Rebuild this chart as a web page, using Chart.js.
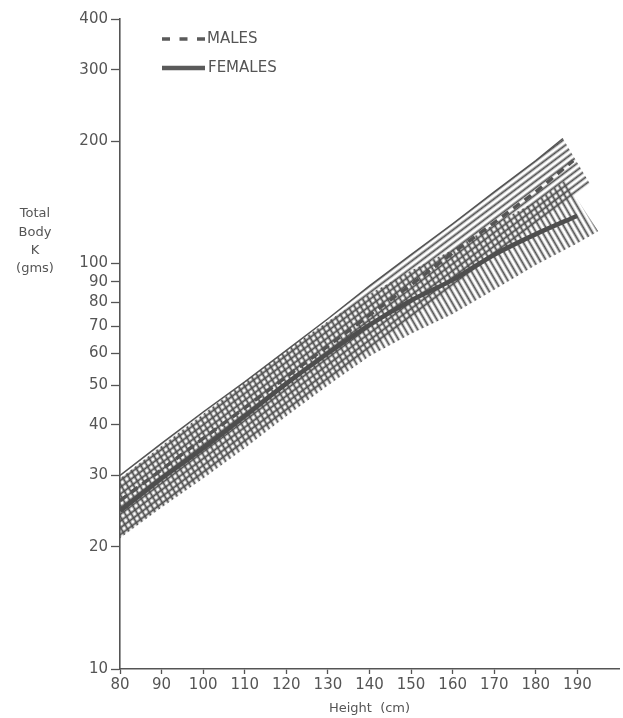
<!DOCTYPE html>
<html><head><meta charset="utf-8">
<script src="https://cdn.jsdelivr.net/npm/chart.js@4"></script>
<style>html,body{margin:0;padding:0;background:#fff}#wrap{width:623px;height:718px;position:relative}</style>
</head><body><div id="wrap"><canvas id="c"></canvas></div>
<script>
// ---- data ----
const heightTicks = [80,90,100,110,120,130,140,150,160,170,180,190];
const kTicks = [10,20,30,40,50,60,70,80,90,100,200,300,400];

const maleHeights = [80,90,100,110,120,130,140,150,160,170,180,189];
const maleK       = [26,31,37,44,52.5,62.5,74.5,88.5,106,126,150,179];
const femaleHeights = [80,90,100,110,120,130,140,150,160,170,180,190];
const femaleK       = [24.5,29.5,35,42,50.5,60,70.5,81,91,105,118,131];

const maleBandTopHeights    = [80,90,100,110,120,130,140,150,160,170,180,186.5];
const maleBandTopK          = [30,36,43,51,61,73,88,105,125,150,179,203];
const maleBandBottomHeights = [80,90,100,110,120,130,140,150,160,170,180,190,193];
const maleBandBottomK       = [21,25,30,36,43,51,61,73,87,104,125,149,157];

const femaleBandTopHeights    = [80,90,100,110,120,130,140,150,160,170,180,187];
const femaleBandTopK          = [29.5,35.5,42.5,51,61,72,84,96,108,125,142,160];
const femaleBandBottomHeights = [80,90,100,110,120,130,140,150,160,170,180,190,195];
const femaleBandBottomK       = [21,25,29.5,35,42,50,59,67,75,86,99,112,120];

const yTitleLines = ['Total','Body','K','(gms)'];
const legendLabels = ['MALES','FEMALES'];
const xTitle = 'Height  (cm)';

// ---- helpers ----
const pts = (xs, ys) => xs.map((x, i) => ({x, y: ys[i]}));
const polygon = (tx, ty, bx, by) => pts(tx, ty).concat(pts(bx, by).reverse());

function hatch(vertical, angle) {
  const s = 5;
  const c = document.createElement('canvas');
  c.width = s; c.height = s;
  const g = c.getContext('2d');
  g.fillStyle = '#4f4f4f';
  if (vertical) g.fillRect(1.5, 0, 1.8, s); else g.fillRect(0, 1.5, s, 1.8);
  const p = g.createPattern(c, 'repeat');
  p.setTransform(new DOMMatrix().rotateSelf(angle).scaleSelf(1.08));
  return p;
}

const GREY = '#555';
const FONT = 'DejaVu Sans';

const labelsPlugin = {
  id: 'labels',
  afterDraw(chart) {
    const ctx = chart.ctx;
    ctx.save();
    ctx.fillStyle = GREY;
    ctx.font = '13px "' + FONT + '"';
    ctx.textAlign = 'center';
    ctx.textBaseline = 'middle';
    const ys = [214, 233, 251, 269];
    yTitleLines.forEach((t, i) => ctx.fillText(t, 35, ys[i]));
    // legend
    ctx.strokeStyle = '#5a5a5a';
    ctx.lineWidth = 3.5;
    ctx.setLineDash([8, 9.5]);
    ctx.beginPath(); ctx.moveTo(162, 39); ctx.lineTo(206, 39); ctx.stroke();
    ctx.setLineDash([]);
    ctx.lineWidth = 4.5;
    ctx.beginPath(); ctx.moveTo(162, 68); ctx.lineTo(205, 68); ctx.stroke();
    ctx.font = '15px "' + FONT + '"';
    ctx.textAlign = 'left';
    ctx.fillText(legendLabels[0], 207, 39);
    ctx.fillText(legendLabels[1], 208, 68);
    ctx.restore();
  }
};

const tickFont = {family: FONT, size: 15};

new Chart(document.getElementById('c'), {
  type: 'line',
  data: {
    datasets: [
      { // females line
        data: pts(femaleHeights, femaleK), borderColor: '#4e4e4e', borderWidth: 4.5,
        pointRadius: 0, fill: false, order: 0, tension: 0.3
      },
      { // males line
        data: pts(maleHeights, maleK), borderColor: '#555', borderWidth: 3.5,
        borderDash: [8, 6], pointRadius: 0, fill: false, order: 1
      },
      { // male band top edge
        data: pts(maleBandTopHeights, maleBandTopK), borderColor: '#555', borderWidth: 1.5,
        pointRadius: 0, fill: false, order: 2
      },
      { // female band (hatched across)
        data: polygon(femaleBandTopHeights, femaleBandTopK, femaleBandBottomHeights, femaleBandBottomK),
        borderColor: 'rgba(0,0,0,0)', borderWidth: 1, pointRadius: 0,
        backgroundColor: hatch(true, -30), fill: 'shape', order: 3
      },
      { // male band (hatched along)
        data: polygon(maleBandTopHeights, maleBandTopK, maleBandBottomHeights, maleBandBottomK),
        borderColor: 'rgba(0,0,0,0)', borderWidth: 1, pointRadius: 0,
        backgroundColor: hatch(false, -37), fill: 'shape', order: 4
      }
    ]
  },
  options: {
    responsive: true, maintainAspectRatio: false, animation: false,
    events: [],
    layout: {padding: {left: 0, top: 19, right: 4, bottom: 0}},
    plugins: {legend: {display: false}, tooltip: {enabled: false}},
    scales: {
      x: {
        type: 'linear', min: 80, max: 200,
        afterBuildTicks: s => { s.ticks = heightTicks.map(v => ({value: v})); },
        afterFit: s => { s.height = 49; },
        ticks: {autoSkip: false, maxRotation: 0, padding: 2, color: GREY, font: tickFont,
                callback: v => String(v)},
        grid: {drawOnChartArea: false, drawTicks: true, tickLength: 5, tickColor: GREY, tickWidth: 1.3},
        border: {display: true, color: GREY, width: 1.6},
        title: {display: true, text: xTitle, color: GREY, font: {family: FONT, size: 13},
                padding: {top: 0, bottom: 2}}
      },
      y: {
        type: 'logarithmic', min: 10, max: 400,
        afterBuildTicks: s => { s.ticks = kTicks.map(v => ({value: v})); },
        afterFit: s => { s.width = 120; },
        ticks: {autoSkip: false, padding: 3, color: GREY, font: tickFont,
                callback: v => String(v)},
        grid: {drawOnChartArea: false, drawTicks: true, tickLength: 9, tickColor: GREY, tickWidth: 1.3},
        border: {display: true, color: GREY, width: 1.6}
      }
    }
  },
  plugins: [labelsPlugin]
});
</script></body></html>
